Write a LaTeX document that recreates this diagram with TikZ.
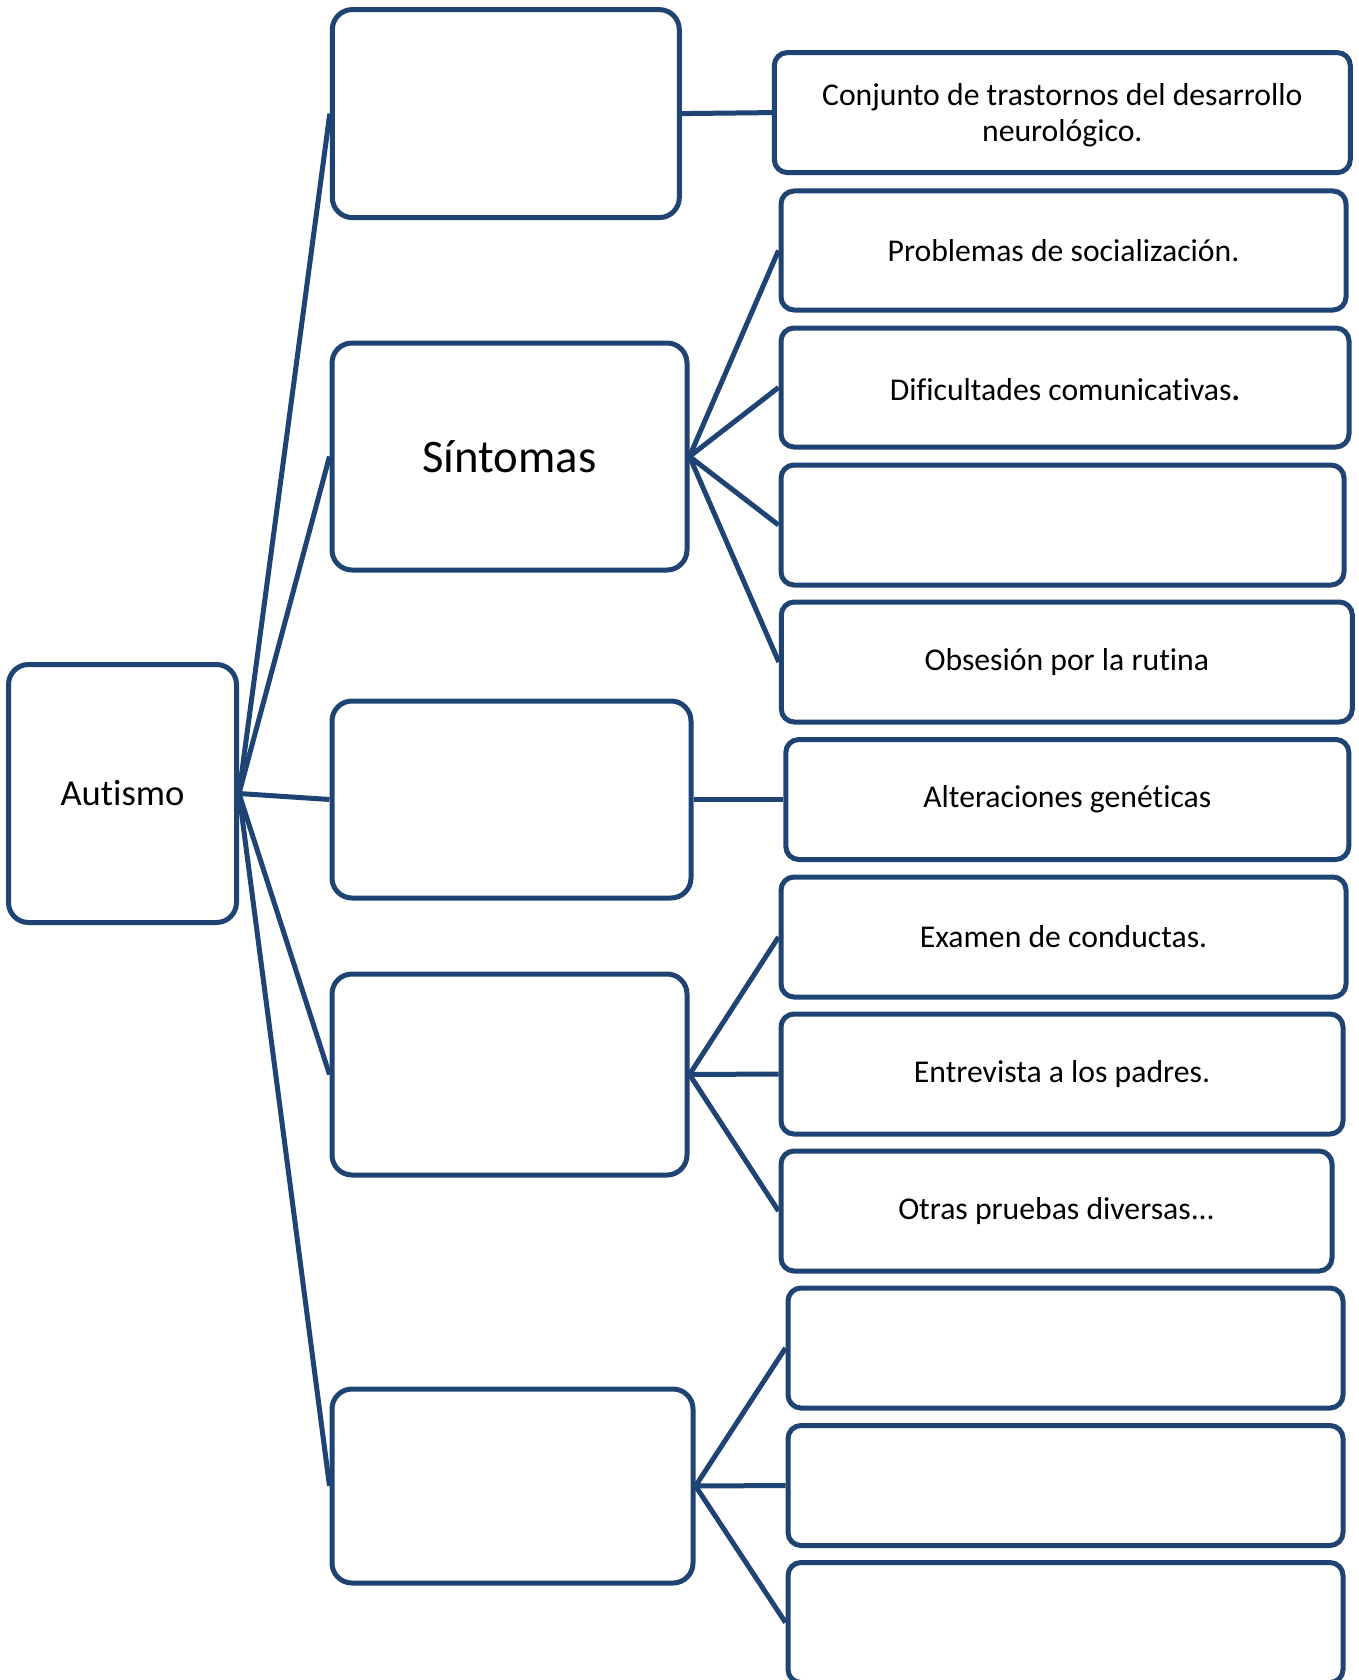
\documentclass[tikz,border=0pt]{standalone}
\usepackage{fontspec}
\setmainfont{Carlito}[Ligatures=CommonOff]
\definecolor{boxblue}{RGB}{31,68,115}
\begin{document}
\begin{tikzpicture}[x=1pt,y=-1pt,
  base/.style={draw=boxblue, line width=5pt, fill=white, inner sep=0pt, align=center, text=black},
  rootbox/.style={base, rounded corners=20pt, font=\fontsize{36.6}{44}\selectfont},
  midbox/.style={base, rounded corners=20pt, font=\fontsize{46.7}{56}\selectfont},
  leafbox/.style={base, rounded corners=13pt, font=\fontsize{31.7}{35.4}\selectfont},
  link/.style={draw=boxblue, line width=5pt}
]
\useasboundingbox[fill=white] (0,0) rectangle (1358,1680);

% root
\node[rootbox, minimum width=228pt, minimum height=258pt] (aut) at (122.5,793.5) {Autismo};

% level 1
\node[midbox, minimum width=347pt, minimum height=208pt] (def) at (505.8,113.6) {};
\node[midbox, minimum width=355pt, minimum height=227pt] (sin) at (509.5,456.5) {Síntomas};
\node[midbox, minimum width=359pt, minimum height=197pt] (cau) at (511.5,799.5) {};
\node[midbox, minimum width=355pt, minimum height=201pt] (dia) at (509.5,1074.5) {};
\node[midbox, minimum width=361pt, minimum height=194pt] (tra) at (512.5,1486) {};

% level 2
\node[leafbox, minimum width=576pt, minimum height=120pt] (r1) at (1062.3,112.6) {\rule{0pt}{27pt}Conjunto de trastornos del desarrollo\\neurológico.};
\node[leafbox, minimum width=565pt, minimum height=119pt] (r2) at (1063.5,250.5) {Problemas de socialización.};
\node[leafbox, minimum width=568pt, minimum height=119pt] (r3) at (1065,387.5) {\rule{0pt}{27pt}Dificultades comunicativas\textbf{.}};
\node[leafbox, minimum width=563pt, minimum height=120pt] (r4) at (1062.5,525) {};
\node[leafbox, minimum width=571pt, minimum height=120pt] (r5) at (1066.8,662) {Obsesión por la rutina};
\node[leafbox, minimum width=563pt, minimum height=120pt] (r6) at (1067.3,799.5) {Alteraciones genéticas};
\node[leafbox, minimum width=565pt, minimum height=120pt] (r7) at (1063.5,937) {Examen de conductas.};
\node[leafbox, minimum width=562pt, minimum height=120pt] (r8) at (1062,1074) {Entrevista a los padres.};
\node[leafbox, minimum width=551pt, minimum height=120pt] (r9) at (1056.5,1211) {Otras pruebas diversas...};
\node[leafbox, minimum width=555pt, minimum height=120pt] (r10) at (1065.5,1348) {};
\node[leafbox, minimum width=555pt, minimum height=120pt] (r11) at (1065.5,1485.5) {};
\node[leafbox, minimum width=555pt, minimum height=120pt] (r12) at (1065.5,1622.5) {};

% connectors
\foreach \t in {def,sin,cau,dia,tra} \draw[link] (aut.east) -- (\t.west);
\draw[link] (def.east) -- (r1.west);
\foreach \t in {r2,r3,r4,r5} \draw[link] (sin.east) -- (\t.west);
\draw[link] (cau.east) -- (r6.west);
\foreach \t in {r7,r8,r9} \draw[link] (dia.east) -- (\t.west);
\foreach \t in {r10,r11,r12} \draw[link] (tra.east) -- (\t.west);
\end{tikzpicture}
\end{document}
